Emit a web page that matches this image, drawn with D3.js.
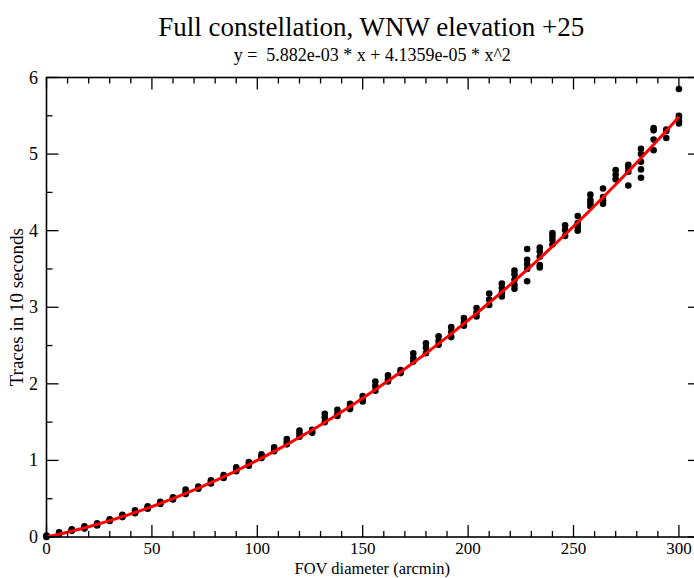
<!DOCTYPE html>
<html>
<head>
<meta charset="utf-8">
<script src="https://cdn.jsdelivr.net/npm/d3@7"></script>
<style>
  html, body { margin: 0; padding: 0; background: #fff; }
  svg { display: block; }
  text { font-family: "Liberation Serif", "DejaVu Serif", serif; fill: #000; }
</style>
</head>
<body>
<svg id="chart" width="694" height="578"></svg>
<script>
// ---- data ----
const titleText = "Full constellation, WNW elevation +25";
const subtitleText = "y =  5.882e-03 * x + 4.1359e-05 * x^2";
const xLabel = "FOV diameter (arcmin)";
const yLabel = "Traces in 10 seconds";

const fovDiameter = [0, 6, 12, 18, 24, 30, 36, 42, 48, 54, 60, 66, 72, 78, 84, 90, 96, 102, 108, 114,
  120, 126, 132, 138, 144, 150, 156, 162, 168, 174, 180, 186, 192, 198, 204, 210, 216, 222, 228, 234,
  240, 246, 252, 258, 264, 270, 276, 282, 288, 294, 300];

const tracesSamples = [
  [0.00, 0.01, 0.02], [0.06, 0.05, 0.04], [0.10, 0.09, 0.08], [0.14, 0.12, 0.11],
  [0.18, 0.16, 0.15], [0.23, 0.22, 0.21], [0.29, 0.27, 0.26], [0.35, 0.32, 0.31],
  [0.40, 0.38, 0.37], [0.46, 0.44, 0.43], [0.52, 0.50, 0.49], [0.62, 0.58, 0.56],
  [0.66, 0.64, 0.63], [0.74, 0.72, 0.70], [0.81, 0.78, 0.77], [0.91, 0.88, 0.86],
  [0.98, 0.95, 0.93], [1.08, 1.05, 1.03], [1.17, 1.14, 1.12], [1.28, 1.24, 1.21],
  [1.39, 1.35, 1.31], [1.40, 1.37, 1.36], [1.61, 1.56, 1.50], [1.66, 1.61, 1.58],
  [1.74, 1.70, 1.67], [1.84, 1.80, 1.77], [2.03, 1.97, 1.91], [2.11, 2.06, 2.03],
  [2.18, 2.16, 2.14], [2.40, 2.34, 2.29], [2.53, 2.47, 2.40], [2.62, 2.56, 2.51],
  [2.74, 2.68, 2.61], [2.86, 2.80, 2.76], [2.99, 2.93, 2.88], [3.18, 3.10, 3.03],
  [3.31, 3.25, 3.19, 3.14], [3.48, 3.43, 3.36, 3.29, 3.24], [3.76, 3.62, 3.56, 3.50, 3.34],
  [3.78, 3.73, 3.66, 3.55, 3.52], [3.97, 3.93, 3.88, 3.82], [4.07, 4.01, 3.93],
  [4.19, 4.10, 4.05, 4.00], [4.47, 4.40, 4.36, 4.32], [4.55, 4.44, 4.39, 4.35],
  [4.79, 4.73, 4.67], [4.86, 4.82, 4.77, 4.59], [5.07, 5.00, 4.90, 4.80, 4.69],
  [5.34, 5.31, 5.19, 5.05], [5.32, 5.30, 5.21], [5.85, 5.50, 5.47, 5.43, 5.40]
];

const fitCoefficients = [5.882e-3, 4.1359e-5]; // linear, quadratic
const xTickValues = [0, 50, 100, 150, 200, 250, 300];
const yTickValues = [0, 1, 2, 3, 4, 5, 6];

// ---- layout ----
const W = 694, H = 578;
const padL = 46.5, padR = 700, padT = 77.5, padB = 537;
const serif = "'Liberation Serif', 'DejaVu Serif', serif";

const svg = d3.select("#chart");
svg.append("rect").attr("width", W).attr("height", H).attr("fill", "#fff");

const x = d3.scaleLinear().domain([0, 310]).range([padL, padR]);
const y = d3.scaleLinear().domain([0, 6]).range([padB, padT]);

const points = [];
fovDiameter.forEach((fx, i) => tracesSamples[i].forEach(v => points.push([fx, v])));

// points
svg.append("g").selectAll("circle").data(points).join("circle")
  .attr("cx", d => x(d[0])).attr("cy", d => y(d[1])).attr("r", 3.3).attr("fill", "#000");

// fit curve
const curveX = d3.range(0, 300.01, 2);
const line = d3.line().x(d => x(d)).y(d => y(fitCoefficients[0] * d + fitCoefficients[1] * d * d));
svg.append("path").datum(curveX).attr("d", line)
  .attr("fill", "none").attr("stroke", "#ff0000").attr("stroke-width", 3);

// frame
svg.append("rect").attr("x", padL).attr("y", padT).attr("width", padR - padL).attr("height", padB - padT)
  .attr("fill", "none").attr("stroke", "#000").attr("stroke-width", 1.6);

const xMinor = d3.range(0, 311, 10);
const yMinor = d3.range(0, 6.01, 0.5);
const tickStyle = g => g.attr("stroke", "#000").attr("stroke-width", 1.3);

// ticks (inward on all four sides)
const tg = svg.append("g").call(tickStyle);
xMinor.forEach(v => {
  const major = v % 50 === 0;
  const len = major ? 12 : 6;
  tg.append("line").attr("x1", x(v)).attr("x2", x(v)).attr("y1", padB).attr("y2", padB - len);
  tg.append("line").attr("x1", x(v)).attr("x2", x(v)).attr("y1", padT).attr("y2", padT + len);
});
yMinor.forEach(v => {
  const major = Math.abs(v - Math.round(v)) < 1e-9;
  const len = major ? 12 : 6;
  tg.append("line").attr("x1", padL).attr("x2", padL + len).attr("y1", y(v)).attr("y2", y(v));
  tg.append("line").attr("x1", padR).attr("x2", padR - len).attr("y1", y(v)).attr("y2", y(v));
});

// tick labels
svg.append("g").selectAll("text").data(xTickValues).join("text")
  .attr("font-family", serif)
  .attr("x", d => x(d)).attr("y", 554).attr("text-anchor", "middle")
  .attr("font-size", 17).text(d => d);
svg.append("g").selectAll("text").data(yTickValues).join("text")
  .attr("font-family", serif)
  .attr("x", 38).attr("y", d => y(d) + 6).attr("text-anchor", "end")
  .attr("font-size", 18).text(d => d);

// titles
const cx = (padL + padR) / 2;
svg.append("text").attr("font-family", serif).attr("x", cx - 2).attr("y", 36).attr("text-anchor", "middle")
  .attr("font-size", 27).text(titleText);
svg.append("text").attr("font-family", serif).attr("x", cx - 1).attr("y", 61).attr("text-anchor", "middle")
  .attr("font-size", 18).style("white-space", "pre").text(subtitleText);
svg.append("text").attr("font-family", serif).attr("x", cx - 1).attr("y", 574).attr("text-anchor", "middle")
  .attr("font-size", 16.5).text(xLabel);
svg.append("text").attr("font-family", serif)
  .attr("transform", `translate(23, ${(padT + padB) / 2}) rotate(-90)`)
  .attr("text-anchor", "middle").attr("font-size", 19).text(yLabel);
</script>
</body>
</html>
